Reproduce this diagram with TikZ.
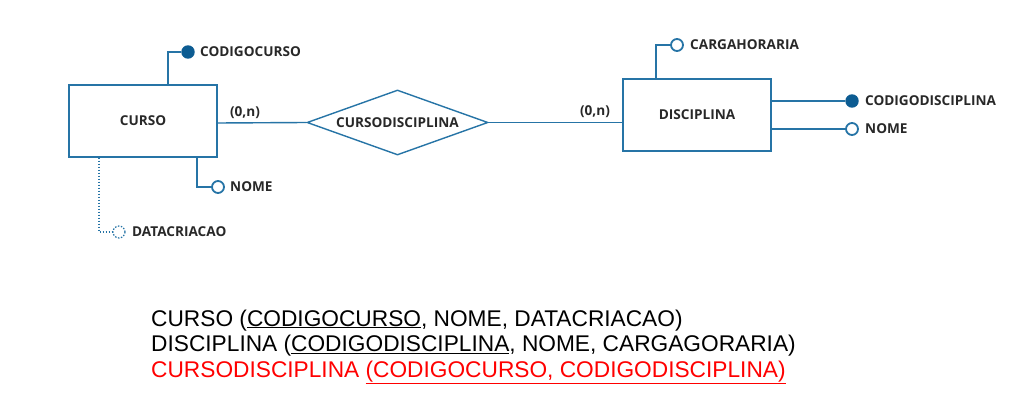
\documentclass[tikz,border=0pt]{standalone}
\usepackage{fontspec}
\setmainfont{Liberation Sans}
\newfontfamily\erfont{Open Sans}
\usetikzlibrary{shapes.geometric}
\definecolor{erline}{RGB}{38,116,166}
\definecolor{erfill}{RGB}{12,92,146}
\definecolor{ertext}{RGB}{40,40,40}
\definecolor{relred}{RGB}{255,0,0}
\tikzset{
  x=1pt, y=-1pt,
  erfnt/.style={font=\erfont\bfseries\fontsize{13.6}{15}\selectfont, text=ertext},
  conn/.style={draw=erline, line width=1.4pt},
  entity/.style={draw=erline, line width=1.4pt, minimum width=148pt, minimum height=72pt, erfnt},
  relbox/.style={draw=erline, line width=1.4pt, diamond, aspect=2.8, minimum width=181pt, minimum height=65pt, inner sep=0pt, erfnt},
  keyattr/.style={circle, fill=erfill, draw=erfill, line width=1.4pt, minimum size=12pt, inner sep=0pt},
  plainattr/.style={circle, fill=white, draw=erline, line width=1.8pt, minimum size=12pt, inner sep=0pt},
  optattr/.style={circle, fill=white, draw=erline, line width=1.2pt, dash pattern=on 1.5pt off 1.5pt, minimum size=12pt, inner sep=0pt},
  attrlabel/.style={anchor=west, inner sep=0pt, erfnt},
  cardlabel/.style={inner sep=0pt, erfnt},
  reltext/.style={anchor=base west, inner sep=0pt, font=\fontsize{22.7}{27}\selectfont}
}
\begin{document}
\begin{tikzpicture}
\useasboundingbox[fill=white] (0,0) rectangle (1027,403);
% entities
\node[entity] (curso) at (143,121) {CURSO};
\node[entity] (disc) at (697,115) {DISCIPLINA};
\node[relbox] (rel) at (397.5,122.5) {CURSODISCIPLINA};
% relationship lines
\draw[conn] (curso.east |- 0,123) -- (rel.west);
\draw[conn] (rel.east) -- (disc.west |- rel.east);
\node[cardlabel] (c1) at (245,113) {(0,n)};
\node[cardlabel] (c2) at (595,112) {(0,n)};
% CURSO attributes
\node[keyattr] (codc) at (188,52) {};
\node[attrlabel] (codcl) at (200,52) {CODIGOCURSO};
\draw[conn] (curso.north -| 168,0) |- (codc.west);
\node[plainattr] (nomec) at (218,187) {};
\node[attrlabel] (nomecl) at (230,187) {NOME};
\draw[conn] (curso.south -| 197,0) |- (nomec.west);
\node[optattr] (datac) at (119,232) {};
\node[attrlabel] (datacl) at (132,232) {DATACRIACAO};
\draw[draw=erline, line width=1.2pt, dash pattern=on 1.5pt off 1.5pt] (curso.south -| 99,0) |- (datac.west);
% DISCIPLINA attributes
\node[plainattr] (carga) at (677,45) {};
\node[attrlabel] (cargal) at (690,45) {CARGAHORARIA};
\draw[conn] (disc.north -| 656,0) |- (carga.west);
\node[keyattr] (codd) at (852,101) {};
\node[attrlabel] (coddl) at (865,101) {CODIGODISCIPLINA};
\draw[conn] (disc.east |- 0,101) -- (codd.west);
\node[plainattr] (nomed) at (852,129) {};
\node[attrlabel] (nomedl) at (865,129) {NOME};
\draw[conn] (disc.east |- 0,129) -- (nomed.west);
% relational schema
\node[reltext] (t1) at (151,326) {CURSO (\underline{CODIGOCURSO}, NOME, DATACRIACAO)};
\node[reltext] (t2) at (151,351.5) {DISCIPLINA (\underline{CODIGODISCIPLINA}, NOME, CARGAGORARIA)};
\node[reltext, text=relred] (t3) at (151,377.5) {CURSODISCIPLINA \underline{(CODIGOCURSO, CODIGODISCIPLINA)}};
\end{tikzpicture}
\end{document}
